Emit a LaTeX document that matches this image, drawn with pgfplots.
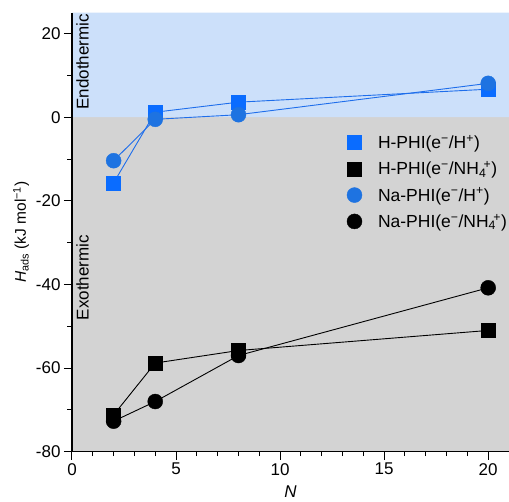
\documentclass[border=0pt]{standalone}
\usepackage{fontspec}
\setmainfont{Liberation Sans}
\usepackage{pgfplots}
\pgfplotsset{compat=1.18}
\definecolor{bgblue}{RGB}{204,224,250}
\definecolor{bggray}{RGB}{211,211,211}
\definecolor{sqblue}{RGB}{10,108,255}
\definecolor{ciblue}{RGB}{30,115,225}
\definecolor{lnblue}{RGB}{30,110,235}
\newcommand{\NHfour}{NH\textsubscript{4}\hspace{-0.15em}\textsuperscript{+}}
\begin{document}
\begin{tikzpicture}[font=\fontsize{17}{20}\selectfont]
\begin{axis}[
  scale only axis, width=437pt, height=439pt,
  xmin=0, xmax=21, ymin=-80, ymax=25,
  axis x line=bottom, axis y line=left,
  axis line style={-, line width=1.1pt},
  xtick={0,5,10,15,20}, ytick={-80,-60,-40,-20,0,20},
  minor x tick num=4, minor y tick num=1,
  tick align=outside, major tick length=8pt, minor tick length=4.5pt,
  tick style={black, line width=1pt},
  /pgf/number format/assume math mode=true,
  axis background/.style={fill=bggray},
  axis on top,
  xlabel={\itshape N},
  xlabel style={yshift=-4pt},
  ylabel={{\itshape H}\textsubscript{ads} (kJ mol\textsuperscript{−1})},
  ylabel style={font=\fontsize{15.5}{18}\selectfont},
  legend style={draw=none, fill=none, at={(0.622,0.731)}, anchor=north west,
    row sep=7.5pt, font=\fontsize{17.5}{20}\selectfont,
    /tikz/every odd column/.style={column sep=14pt}},
  legend cell align=left,
]
\addplot[fill=bgblue, draw=none, forget plot] coordinates {(0,0) (21,0) (21,25) (0,25) (0,0)};
% lines
\addplot[lnblue, line width=0.9pt, forget plot] coordinates {(2,-15.7) (4,1.2) (8,3.6) (20,6.7)};
\addplot[lnblue, line width=0.9pt, forget plot] coordinates {(2,-10.4) (4,-0.5) (8,0.6) (20,8.1)};
\addplot[black, line width=0.9pt, forget plot] coordinates {(2,-71.2) (4,-58.8) (8,-55.8) (20,-51.0)};
\addplot[black, line width=0.9pt, forget plot] coordinates {(2,-72.7) (4,-68.0) (8,-57.0) (20,-40.8)};
% markers
\addplot[only marks, mark=square*, mark size=7pt, mark options={fill=sqblue, draw=sqblue}] coordinates {(2,-15.7) (4,1.2) (8,3.6) (20,6.7)};
\addlegendentry{H-PHI(e\textsuperscript{−}/H\textsuperscript{+})}
\addplot[only marks, mark=square*, mark size=7pt, mark options={fill=black, draw=black}] coordinates {(2,-71.2) (4,-58.8) (8,-55.8) (20,-51.0)};
\addlegendentry{H-PHI(e\textsuperscript{−}/\NHfour)}
\addplot[only marks, mark=*, mark size=7.5pt, mark options={fill=ciblue, draw=ciblue}] coordinates {(2,-10.4) (4,-0.5) (8,0.6) (20,8.1)};
\addlegendentry{Na-PHI(e\textsuperscript{−}/H\textsuperscript{+})}
\addplot[only marks, mark=*, mark size=7.5pt, mark options={fill=black, draw=black}] coordinates {(2,-72.7) (4,-68.0) (8,-57.0) (20,-40.8)};
\addlegendentry{Na-PHI(e\textsuperscript{−}/\NHfour)}
\node[rotate=90, anchor=north west, inner sep=0pt] at ([xshift=4pt, yshift=7.5pt]axis cs:0,0) {Endothermic};
\node[rotate=90, anchor=north west, inner sep=0pt] at ([xshift=4pt]axis cs:0,-48.6) {Exothermic};
\end{axis}
\pgfresetboundingbox
\path ([xshift=-72pt,yshift=12.7pt]current axis.north west) rectangle ([yshift=-50.3pt]current axis.south east);
\end{tikzpicture}
\end{document}
